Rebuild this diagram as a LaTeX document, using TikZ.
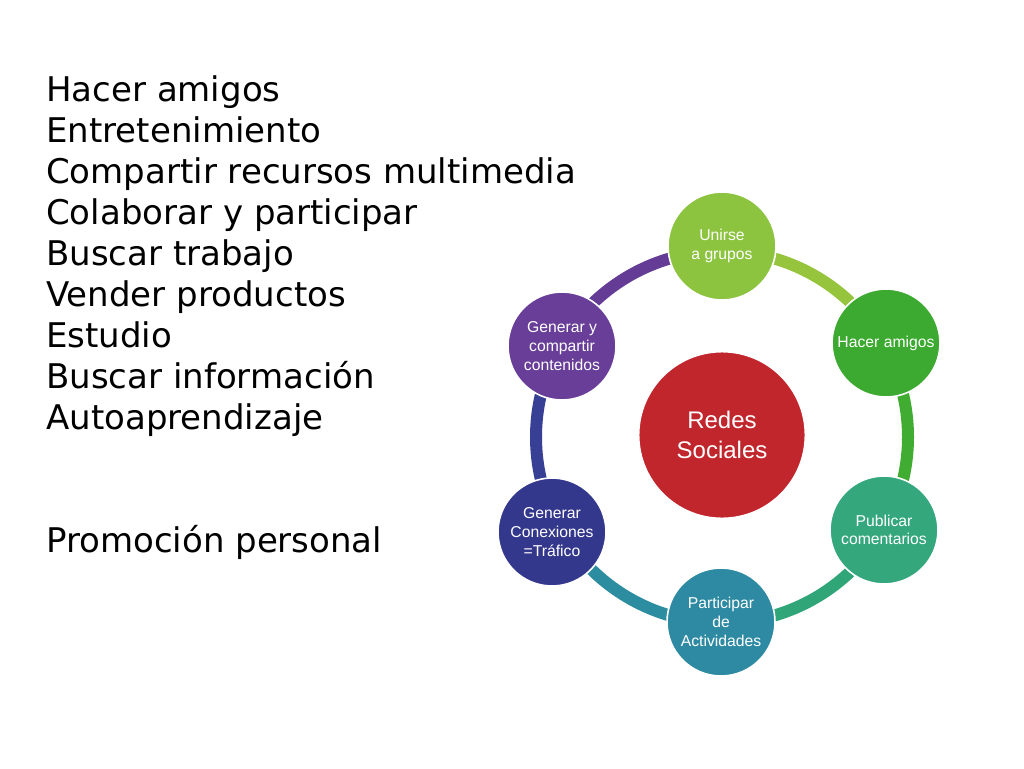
\documentclass[tikz,border=0pt]{standalone}
\usepackage{fontspec}
\setmainfont{DejaVu Sans}
\newfontfamily\smallf{Liberation Sans}
\begin{document}
\begin{tikzpicture}[x=0.75pt,y=-0.75pt,
  lst/.style={anchor=base west,inner sep=0pt,font=\fontsize{25.5}{25.5}\selectfont},
  sat/.style={circle,minimum size=81pt,inner sep=0pt,draw=white,line width=1.2pt,text=white,align=center,font=\smallf\fontsize{11.8}{14}\selectfont},
  seg/.style={line width=9pt}]
\useasboundingbox (0,0) rectangle (1024,768);
\fill[white] (0,0) rectangle (1024,768);
\foreach \t [count=\i] in {Hacer amigos,Entretenimiento,Compartir recursos multimedia,Colaborar y participar,Buscar trabajo,Vender productos,Estudio,Buscar información,Autoaprendizaje}
  \node[lst] (l\i) at (46,{101+41*(\i-1)}) {\t};
\node[lst] (l10) at (46,552) {Promoción personal};
\def\R{186}
\foreach \a/\b/\col in {-90/-30/{rgb,255:red,150;green,196;blue,60},-30/30/{rgb,255:red,64;green,172;blue,50},30/90/{rgb,255:red,48;green,165;blue,120},90/150/{rgb,255:red,44;green,140;blue,160},150/210/{rgb,255:red,56;green,64;blue,150},210/270/{rgb,255:red,100;green,60;blue,150}}
  \draw[seg,color=\col] ([shift={(\a+10:\R)}]722,437) arc[start angle=\a+10,end angle=\b-10,radius=\R];
\node[circle,minimum size=125pt,inner sep=0pt,fill={rgb,255:red,192;green,38;blue,44},draw=white,line width=1.2pt,text=white,align=center,font=\smallf\fontsize{18}{22}\selectfont] (rs) at (722,435) {Redes\\Sociales};
\node[sat,fill={rgb,255:red,140;green,196;blue,64}] (u) at (722,246) {Unirse\\a grupos};
\node[sat,fill={rgb,255:red,60;green,170;blue,48}] (h) at (886,343) {Hacer amigos};
\node[sat,fill={rgb,255:red,52;green,168;blue,124}] (p) at (884,530) {Publicar\\comentarios};
\node[sat,fill={rgb,255:red,46;green,138;blue,162}] (a) at (721,622) {Participar\\de\\Actividades};
\node[sat,fill={rgb,255:red,52;green,56;blue,140}] (g) at (552,532) {Generar\\Conexiones\\=Tráfico};
\node[sat,fill={rgb,255:red,104;green,62;blue,152}] (gc) at (562,346) {Generar y\\compartir\\contenidos};
\end{tikzpicture}
\end{document}
